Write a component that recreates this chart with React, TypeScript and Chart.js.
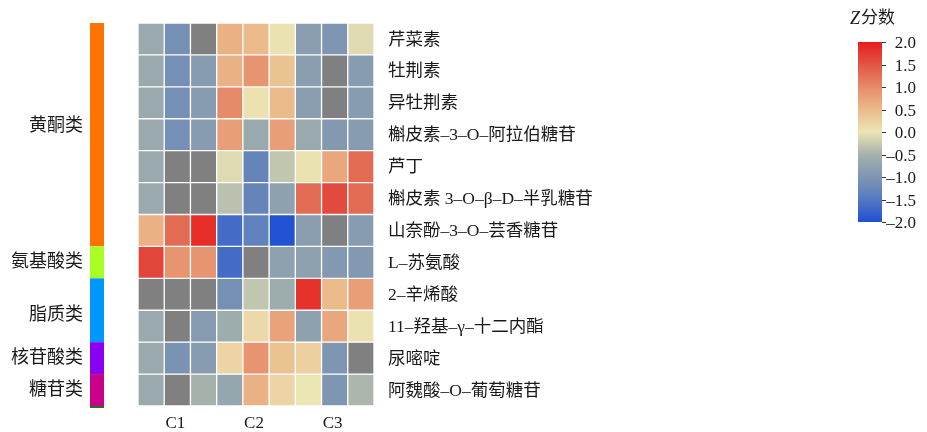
import { useEffect, useRef } from "react";
import { Chart, registerables } from "chart.js";

Chart.register(...registerables);

// Sample columns (three replicates per group) and the group labels under them
const sampleColumns = ["C1-1", "C1-2", "C1-3", "C2-1", "C2-2", "C2-3", "C3-1", "C3-2", "C3-3"];
const sampleGroups = ["C1", "C2", "C3"];

// Metabolites, top to bottom
const compounds = [
  "芹菜素",
  "牡荆素",
  "异牡荆素",
  "槲皮素–3–O–阿拉伯糖苷",
  "芦丁",
  "槲皮素 3–O–β–D–半乳糖苷",
  "山奈酚–3–O–芸香糖苷",
  "L–苏氨酸",
  "2–辛烯酸",
  "11–羟基–γ–十二内酯",
  "尿嘧啶",
  "阿魏酸–O–葡萄糖苷",
];

// Z scores per metabolite (null = missing, drawn grey)
const zScores: (number | null)[][] = [
  [-0.65, -1.1, null, 0.6, 0.5, 0.05, -0.85, -1.0, -0.1],
  [-0.65, -1.1, -0.9, 0.6, 0.9, 0.4, -0.85, null, -0.9],
  [-0.65, -1.1, -0.9, 1.0, 0.05, 0.5, -0.85, null, -0.9],
  [-0.65, -1.1, -0.9, 0.8, -0.65, 0.8, -0.65, -0.95, -0.9],
  [-0.65, null, null, -0.1, -1.3, -0.3, 0.05, 0.7, 1.3],
  [-0.65, null, null, -0.35, -1.3, -0.8, 1.3, 1.6, 1.3],
  [0.6, 1.3, 1.85, -1.65, -1.35, -1.95, -0.85, null, -0.9],
  [1.65, 0.9, 0.9, -1.65, null, -0.8, -0.8, -0.95, -0.95],
  [null, null, null, -1.1, -0.3, -0.6, 1.8, 0.5, 0.8],
  [-0.65, null, -0.9, -0.6, 0.15, 0.75, -0.8, 0.7, 0.05],
  [-0.65, -1.05, -0.9, 0.2, 0.9, 0.4, 0.25, -1.0, null],
  [-0.65, null, -0.5, -0.7, 0.6, 0.2, 0.0, -1.0, -0.45],
];

// Compound classes, how many rows each covers, and their colours
const classNames = ["黄酮类", "氨基酸类", "脂质类", "核苷酸类", "糖苷类"];
const classRowCounts = [7, 1, 2, 1, 1];
const classColors = ["#ff7300", "#a8ff24", "#0097fb", "#8a00f0", "#c9008a"];
const classLabelRows = [3.25, 7.5, 9.15, 10.5, 11.5];

// Colour scale
const zStops = [-2, -1.5, -1, -0.5, 0, 0.5, 1, 1.5, 2];
const zColors = ["#1e4fd6", "#5479c0", "#7f96b2", "#a5b1ab", "#ece5b4", "#ebba8b", "#e68b69", "#e05645", "#e81c1c"];
const colorbarTicks = [2, 1.5, 1, 0.5, 0, -0.5, -1, -1.5, -2];
const missingColor = "#808080";

const FONT = '"Liberation Serif", "Noto Sans CJK SC", serif';

function hexToRgb(h: string): number[] {
  const n = parseInt(h.slice(1), 16);
  return [(n >> 16) & 255, (n >> 8) & 255, n & 255];
}

function zColor(v: number | null): string {
  if (v === null) return missingColor;
  const z = Math.max(zStops[0], Math.min(zStops[zStops.length - 1], v));
  let i = 0;
  while (i < zStops.length - 2 && z > zStops[i + 1]) i++;
  const t = (z - zStops[i]) / (zStops[i + 1] - zStops[i]);
  const a = hexToRgb(zColors[i]);
  const b = hexToRgb(zColors[i + 1]);
  const c = a.map((av, k) => Math.round(av + (b[k] - av) * t));
  return `rgb(${c[0]},${c[1]},${c[2]})`;
}

function fmtTick(v: number): string {
  return (v < 0 ? "–" : "") + Math.abs(v).toFixed(1);
}

const annotationPlugin = {
  id: "heatmapAnnotations",
  afterDatasetsDraw(chart: any) {
    const { ctx, scales } = chart;
    const x = scales.x;
    const y = scales.y;
    ctx.save();

    // class colour strip and class names
    let start = 0;
    classRowCounts.forEach((n, i) => {
      const top = y.getPixelForValue(start);
      const bottom = y.getPixelForValue(start + n);
      ctx.fillStyle = classColors[i];
      ctx.fillRect(90, top, 14, bottom - top);
      ctx.fillStyle = "#1a1a1a";
      ctx.font = `18px ${FONT}`;
      ctx.textAlign = "right";
      ctx.textBaseline = "middle";
      ctx.fillText(classNames[i], 83, y.getPixelForValue(classLabelRows[i]));
      start += n;
    });
    const end = y.getPixelForValue(start);
    ctx.fillStyle = "#2f6a1c";
    ctx.fillRect(90, end, 14, 2);

    // row labels
    ctx.fillStyle = "#1a1a1a";
    ctx.font = `17.5px ${FONT}`;
    ctx.textAlign = "left";
    ctx.textBaseline = "middle";
    compounds.forEach((name, r) => {
      ctx.fillText(name, 388, y.getPixelForValue(r + 0.5) + 1);
    });

    // column group labels
    ctx.font = `17px ${FONT}`;
    ctx.textAlign = "center";
    sampleGroups.forEach((g, gi) => {
      const cx = x.getPixelForValue(gi * 3 + 1);
      ctx.fillText(g, cx - 2, 424);
    });

    // colour bar
    const cbTop = 42;
    const cbBottom = 222;
    const cbLeft = 858;
    const cbRight = 882;
    const grad = ctx.createLinearGradient(0, cbBottom, 0, cbTop);
    zStops.forEach((s, i) => {
      grad.addColorStop((s - zStops[0]) / (zStops[zStops.length - 1] - zStops[0]), zColors[i]);
    });
    ctx.fillStyle = grad;
    ctx.fillRect(cbLeft, cbTop, cbRight - cbLeft, cbBottom - cbTop);

    ctx.strokeStyle = "#333";
    ctx.lineWidth = 1;
    ctx.fillStyle = "#1a1a1a";
    ctx.font = `17px ${FONT}`;
    ctx.textAlign = "right";
    ctx.textBaseline = "middle";
    colorbarTicks.forEach((t) => {
      const py = cbBottom - ((t - zStops[0]) / (zStops[zStops.length - 1] - zStops[0])) * (cbBottom - cbTop);
      ctx.beginPath();
      ctx.moveTo(cbRight, Math.round(py) + 0.5);
      ctx.lineTo(cbRight + 4, Math.round(py) + 0.5);
      ctx.stroke();
      ctx.fillText(fmtTick(t), 916, py + 2);
    });

    // colour bar title: italic Z followed by 分数
    ctx.textAlign = "left";
    ctx.font = `italic 18px ${FONT}`;
    const zW = ctx.measureText("Z").width;
    ctx.font = `17px ${FONT}`;
    const restW = ctx.measureText("分数").width;
    const tx = 872 - (zW + restW) / 2;
    ctx.font = `italic 18px ${FONT}`;
    ctx.fillText("Z", tx, 19);
    ctx.font = `17px ${FONT}`;
    ctx.fillText("分数", tx + zW + 1, 19);

    ctx.restore();
  },
};

export default function App() {
  const canvasRef = useRef<HTMLCanvasElement | null>(null);

  useEffect(() => {
    document.body.style.margin = "0";
    const canvas = canvasRef.current;
    if (!canvas) return;

    const datasets = zScores.map((row, r) => ({
      label: compounds[r],
      data: sampleColumns.map(() => [r, r + 1]),
      backgroundColor: row.map((v) => zColor(v)),
      borderColor: "#ffffff",
      borderWidth: 1,
      borderSkipped: false as const,
      grouped: false,
      barPercentage: 1,
      categoryPercentage: 1,
    }));

    const chart = new Chart(canvas, {
      type: "bar",
      data: { labels: sampleColumns, datasets: datasets as any },
      options: {
        animation: false,
        responsive: true,
        maintainAspectRatio: false,
        layout: { padding: { left: 138, right: 927 - 374, top: 23, bottom: 432 - 406 } },
        plugins: { legend: { display: false }, tooltip: { enabled: false } },
        scales: {
          x: { type: "category", display: false, offset: true },
          y: { type: "linear", display: false, min: 0, max: 12, reverse: true },
        },
      },
      plugins: [annotationPlugin],
    });

    return () => chart.destroy();
  }, []);

  return (
    <div style={{ width: 927, height: 432, position: "relative", background: "#fff" }}>
      <canvas ref={canvasRef} />
    </div>
  );
}
